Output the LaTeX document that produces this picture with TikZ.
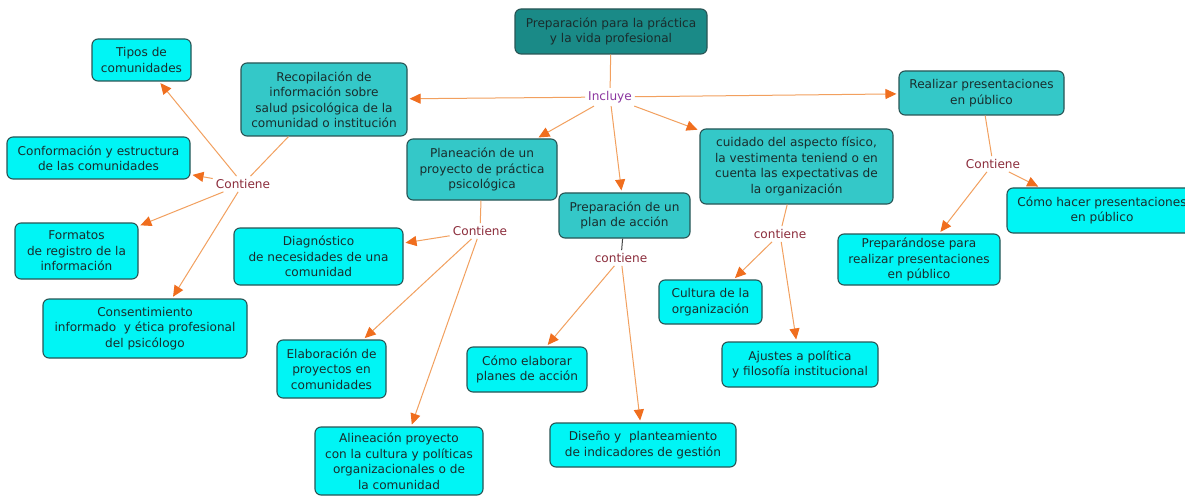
\documentclass[tikz,border=0pt]{standalone}
\usepackage{fontspec}
\setmainfont{DejaVu Sans}
\usetikzlibrary{arrows.meta}
\definecolor{rootfill}{RGB}{26,138,135}
\definecolor{midfill}{RGB}{52,200,200}
\definecolor{leaffill}{RGB}{0,245,245}
\definecolor{boxline}{RGB}{40,85,85}
\definecolor{boxtext}{RGB}{25,45,45}
\definecolor{lineor}{RGB}{242,160,95}
\definecolor{tipor}{RGB}{240,110,30}
\definecolor{linkpurple}{RGB}{140,55,160}
\definecolor{linkred}{RGB}{140,45,60}
\definecolor{darkline}{RGB}{70,70,70}
\tikzset{
  box/.style={draw=boxline, line width=1.1pt, rounded corners=6pt, align=center,
    text=boxtext, inner sep=1pt, font=\fontsize{12.1}{15.5}\selectfont},
  rootbox/.style={box, fill=rootfill},
  midbox/.style={box, fill=midfill},
  leafbox/.style={box, fill=leaffill},
  linklabel/.style={inner sep=3pt, font=\fontsize{12.1}{14}\selectfont},
  ln/.style={draw=lineor, line width=1pt},
  arr/.style={ln, -{Triangle[length=11pt,width=10pt,fill=tipor,color=tipor]}, shorten >=2pt},
}
\begin{document}
\begin{tikzpicture}[x=1pt,y=-1pt]
\useasboundingbox (0,0) rectangle (1185,497);
\clip (0,0) rectangle (1185,497);
\fill[white] (0,0) rectangle (1185,497);

% boxes
\node[rootbox, minimum width=192pt, minimum height=45pt] (root) at (611,31.5) {Preparación para la práctica\\y la vida profesional};
\node[midbox, minimum width=166pt, minimum height=73pt] (recop) at (324,99.5) {Recopilación de\\información sobre\\salud psicológica de la\\comunidad o institución};
\node[leafbox, minimum width=99pt, minimum height=42pt] (tipos) at (141.5,60) {Tipos de\\comunidades};
\node[leafbox, minimum width=183pt, minimum height=42pt] (conform) at (98.5,158) {Conformación y estructura\\de las comunidades};
\node[leafbox, minimum width=123pt, minimum height=56pt] (formatos) at (76.5,251) {Formatos\\de registro de la\\información};
\node[leafbox, minimum width=204pt, minimum height=59pt] (consent) at (145,328.5) {Consentimiento\\informado\ \ y ética profesional\\del psicólogo};
\node[leafbox, minimum width=169pt, minimum height=57pt] (diag) at (318.5,256.5) {Diagnóstico\\de necesidades de una\\comunidad};
\node[midbox, minimum width=150pt, minimum height=61pt] (plan) at (482,169.5) {Planeación de un\\proyecto de práctica\\psicológica};
\node[leafbox, minimum width=109pt, minimum height=58pt] (elab) at (331.5,369) {Elaboración de\\proyectos en\\comunidades};
\node[leafbox, minimum width=168pt, minimum height=68pt] (alin) at (399,461) {Alineación proyecto\\con la cultura y políticas\\organizacionales o de\\la comunidad};
\node[midbox, minimum width=131pt, minimum height=45pt] (prepplan) at (624.5,215.5) {Preparación de un\\plan de acción};
\node[leafbox, minimum width=120pt, minimum height=45pt] (comoelab) at (527,369.5) {Cómo elaborar\\planes de acción};
\node[leafbox, minimum width=186pt, minimum height=44pt] (diseno) at (643,445) {Diseño y\ \ planteamiento\\de indicadores de gestión};
\node[midbox, minimum width=193pt, minimum height=75pt] (cuidado) at (796.5,166.5) {cuidado del aspecto físico,\\la vestimenta teniend o en\\cuenta las expectativas de\\la organización};
\node[leafbox, minimum width=103pt, minimum height=44pt] (cultura) at (710.5,302) {Cultura de la\\organización};
\node[leafbox, minimum width=156pt, minimum height=45pt] (ajustes) at (800,364.5) {Ajustes a política\\y filosofía institucional};
\node[midbox, minimum width=165pt, minimum height=44pt] (realizar) at (981.5,93) {Realizar presentaciones\\en público};
\node[leafbox, minimum width=190pt, minimum height=45pt] (comohacer) at (1102,210.5) {Cómo hacer presentaciones\\en público};
\node[leafbox, minimum width=162pt, minimum height=51pt] (preparandose) at (919,259.5) {Preparándose para\\realizar presentaciones\\en público};

% linking phrases
\node[linklabel, text=linkpurple] (incluye) at (610,97) {Incluye};
\node[linklabel, text=linkred] (cont1) at (243,184) {Contiene};
\node[linklabel, text=linkred] (cont2) at (480,231) {Contiene};
\node[linklabel, text=linkred] (cont3) at (621,258) {contiene};
\node[linklabel, text=linkred] (cont4) at (780,234) {contiene};
\node[linklabel, text=linkred] (cont5) at (993,164) {Contiene};

% connectors
\draw[ln] (root) -- (incluye);
\draw[arr] (incluye) -- (recop);
\draw[arr] (incluye) -- (realizar);
\draw[arr] (incluye) -- (plan);
\draw[arr] (incluye) -- (prepplan);
\draw[arr] (incluye) -- (cuidado);

\draw[ln] (recop) -- (cont1);
\draw[arr] (cont1) -- (tipos);
\draw[arr] (cont1) -- (conform);
\draw[arr] (cont1) -- (formatos);
\draw[arr] (cont1) -- ([xshift=27pt]consent.north);

\draw[ln] (plan) -- (cont2);
\draw[arr] (cont2) -- (diag);
\draw[arr] (cont2) -- (elab);
\draw[arr] (cont2) -- (alin);

\draw[darkline, line width=1pt] (prepplan) -- (cont3);
\draw[arr] (cont3) -- (comoelab);
\draw[arr] (cont3) -- (diseno);

\draw[ln] (cuidado) -- (cont4);
\draw[arr] (cont4) -- (cultura);
\draw[arr] (cont4) -- (ajustes);

\draw[ln] (realizar) -- (cont5);
\draw[arr] (cont5) -- ([xshift=-62pt]comohacer.north);
\draw[arr] (cont5) -- (preparandose);
\end{tikzpicture}
\end{document}
